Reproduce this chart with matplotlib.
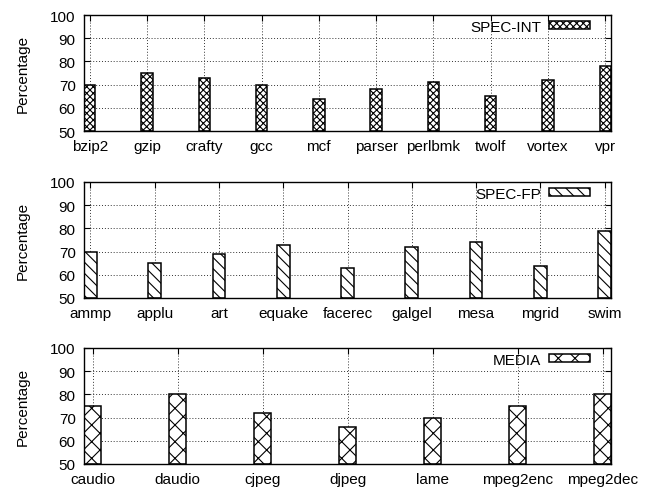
import matplotlib
matplotlib.use("Agg")
import matplotlib.pyplot as plt
import numpy as np

plt.rcParams['font.family'] = ['Liberation Sans', 'DejaVu Sans']
plt.rcParams['hatch.linewidth'] = 0.8
plt.rcParams['hatch.color'] = 'black'

int_names = ["bzip2", "gzip", "crafty", "gcc", "mcf", "parser", "perlbmk", "twolf", "vortex", "vpr"]
int_values = [70, 75, 73, 70, 64, 68, 71, 65, 72, 78]

fp_names = ["ammp", "applu", "art", "equake", "facerec", "galgel", "mesa", "mgrid", "swim"]
fp_values = [70, 65, 69, 73, 63, 72, 74, 64, 79]

media_names = ["caudio", "daudio", "cjpeg", "djpeg", "lame", "mpeg2enc", "mpeg2dec"]
media_values = [75, 80, 72, 66, 70, 75, 80]

yticks = [50, 60, 70, 80, 90, 100]

panels = [
    (int_names, int_values, "SPEC-INT", "xxxxx"),
    (fp_names, fp_values, "SPEC-FP", "\\\\\\"),
    (media_names, media_values, "MEDIA", "xx"),
]

fig = plt.figure(figsize=(6.46, 4.89), dpi=100)
left, right = 84 / 646, 611 / 646
tops = [16, 183, 349]
height_px = 116
FS = 11
W = 0.2

for (names, vals, label, hatch), top in zip(panels, tops):
    b = 1 - (top + height_px) / 489
    h = height_px / 489
    ax = fig.add_axes([left, b, right - left, h])
    x = np.arange(len(names))
    ax.bar(x, np.array(vals) - 50, bottom=50, width=W, color='white',
           edgecolor='black', linewidth=1.1, hatch=hatch, label=label, zorder=3)
    ax.set_xlim(-W / 2, len(names) - 1 + W / 2)
    ax.set_ylim(50, 100)
    ax.set_yticks(yticks)
    ax.set_xticks(x)
    ax.set_xticklabels(names, fontsize=FS)
    ax.tick_params(axis='y', labelsize=FS, pad=6)
    ax.tick_params(axis='x', pad=6)
    ax.tick_params(direction='in', length=4, width=0.8, top=True, right=True)
    ax.grid(True, color='0.2', linestyle=(0, (1, 2)), linewidth=0.7, zorder=0)
    ax.set_axisbelow(True)
    for s in ax.spines.values():
        s.set_linewidth(1.0)
        s.set_zorder(5)
    ax.set_ylabel("Percentage", fontsize=FS)
    ax.yaxis.set_label_coords(-0.102, 0.5)
    leg = ax.legend(loc='upper right', bbox_to_anchor=(0.960, 0.96), frameon=False,
                    markerfirst=False, fontsize=FS, handlelength=2.7, handleheight=0.4,
                    handletextpad=0.5, borderpad=0, borderaxespad=0)

fig.savefig("out.png", dpi=100)
